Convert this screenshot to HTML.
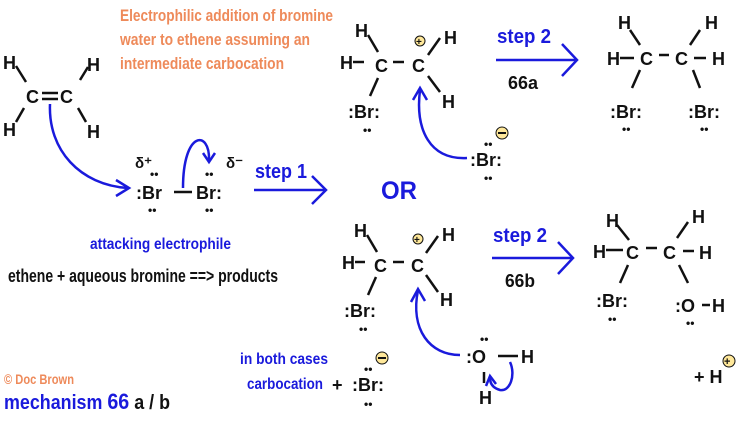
<!DOCTYPE html>
<html><head><meta charset="utf-8"><style>
body{margin:0;background:#fff}
svg text{font-family:"Liberation Sans",sans-serif;font-weight:bold}
.k{font-size:18px;fill:#111}
.b{fill:#1a1adc}
.o{fill:#ee8a5a;font-size:17px}
</style></head><body>
<svg width="748" height="421" viewBox="0 0 748 421" xmlns="http://www.w3.org/2000/svg">
<!-- title -->
<text class="o" x="120" y="21" textLength="213" lengthAdjust="spacingAndGlyphs">Electrophilic addition of bromine</text>
<text class="o" x="120" y="45" textLength="190" lengthAdjust="spacingAndGlyphs">water to ethene assuming an</text>
<text class="o" x="120" y="69" textLength="164" lengthAdjust="spacingAndGlyphs">intermediate carbocation</text>

<g class="k" stroke="#111" stroke-width="2.5">
<!-- ethene -->
<text x="3" y="69" stroke="none">H</text><text x="87" y="71" stroke="none">H</text>
<text x="26" y="103" stroke="none">C</text><text x="60" y="103" stroke="none">C</text>
<text x="3" y="136" stroke="none">H</text><text x="87" y="138" stroke="none">H</text>
<line x1="16" y1="66" x2="26" y2="82"/><line x1="80" y1="80" x2="88" y2="67"/>
<line x1="16" y1="122" x2="24" y2="108"/><line x1="78" y1="108" x2="86" y2="122"/>
<line x1="42" y1="93" x2="58" y2="93"/><line x1="42" y1="99" x2="58" y2="99"/>
<!-- Br-Br -->
<text x="135" y="168" stroke="none" font-size="15">δ⁺</text>
<text x="226" y="168" stroke="none" font-size="15">δ⁻</text>
<text x="136" y="199" stroke="none">:Br</text>
<line x1="174" y1="192" x2="192" y2="192"/>
<text x="196" y="199" stroke="none">Br:</text>
<text x="150" y="178" stroke="none" font-size="12">••</text>
<text x="205" y="178" stroke="none" font-size="12">••</text>
<text x="148" y="214" stroke="none" font-size="12">••</text>
<text x="205" y="214" stroke="none" font-size="12">••</text>

<!-- top carbocation -->
<text x="355" y="37" stroke="none">H</text>
<text x="340" y="69" stroke="none">H</text><line x1="353" y1="62" x2="364" y2="62"/>
<text x="375" y="72" stroke="none">C</text><line x1="393" y1="62" x2="404" y2="62"/>
<text x="412" y="72" stroke="none">C</text>
<text x="444" y="44" stroke="none">H</text><text x="442" y="108" stroke="none">H</text>
<line x1="368" y1="35" x2="378" y2="52"/><line x1="428" y1="55" x2="440" y2="38"/>
<line x1="428" y1="76" x2="440" y2="92"/><line x1="378" y1="78" x2="370" y2="96"/>
<text x="348" y="118" stroke="none">:Br:</text><text x="363" y="134" stroke="none" font-size="12">••</text>
<circle cx="420" cy="41" r="5" fill="#ffe89a" stroke-width="1"/><text x="416" y="45" stroke="none" font-size="10">+</text>
<text x="470" y="166" stroke="none">:Br:</text>
<text x="484" y="148" stroke="none" font-size="12">••</text><text x="484" y="182" stroke="none" font-size="12">••</text>
<circle cx="502" cy="133" r="6" fill="#ffe89a" stroke-width="1"/><line x1="498" y1="133" x2="506" y2="133" stroke-width="2"/>

<!-- top product -->
<text x="618" y="29" stroke="none">H</text><text x="705" y="29" stroke="none">H</text>
<text x="607" y="65" stroke="none">H</text><line x1="620" y1="58" x2="634" y2="58"/>
<text x="640" y="65" stroke="none">C</text><line x1="659" y1="55" x2="669" y2="55"/>
<text x="675" y="65" stroke="none">C</text><line x1="694" y1="58" x2="706" y2="58"/>
<text x="712" y="65" stroke="none">H</text>
<line x1="630" y1="30" x2="640" y2="45"/><line x1="690" y1="45" x2="700" y2="30"/>
<line x1="640" y1="70" x2="632" y2="88"/><line x1="693" y1="70" x2="700" y2="88"/>
<text x="610" y="118" stroke="none">:Br:</text><text x="622" y="133" stroke="none" font-size="12">••</text>
<text x="688" y="118" stroke="none">:Br:</text><text x="700" y="133" stroke="none" font-size="12">••</text>

<!-- bottom carbocation -->
<text x="354" y="237" stroke="none">H</text>
<text x="342" y="269" stroke="none">H</text><line x1="355" y1="262" x2="365" y2="262"/>
<text x="374" y="272" stroke="none">C</text><line x1="393" y1="262" x2="404" y2="262"/>
<text x="411" y="272" stroke="none">C</text>
<text x="442" y="241" stroke="none">H</text><text x="440" y="306" stroke="none">H</text>
<line x1="367" y1="235" x2="377" y2="252"/><line x1="426" y1="253" x2="438" y2="236"/>
<line x1="426" y1="275" x2="438" y2="292"/><line x1="376" y1="277" x2="368" y2="295"/>
<text x="344" y="317" stroke="none">:Br:</text><text x="359" y="333" stroke="none" font-size="12">••</text>
<circle cx="418" cy="239" r="5" fill="#ffe89a" stroke-width="1"/><text x="414" y="243" stroke="none" font-size="10">+</text>
<!-- water -->
<text x="466" y="363" stroke="none">:O</text><line x1="498" y1="356" x2="518" y2="356"/>
<text x="521" y="363" stroke="none">H</text>
<text x="480" y="343" stroke="none" font-size="12">••</text>
<line x1="484" y1="372" x2="484" y2="383"/><text x="479" y="404" stroke="none">H</text>
<!-- bottom product -->
<text x="606" y="227" stroke="none">H</text><text x="692" y="223" stroke="none">H</text>
<text x="593" y="258" stroke="none">H</text><line x1="606" y1="250" x2="623" y2="250"/>
<text x="626" y="259" stroke="none">C</text><line x1="646" y1="248" x2="657" y2="248"/>
<text x="663" y="259" stroke="none">C</text><line x1="683" y1="251" x2="694" y2="251"/>
<text x="699" y="259" stroke="none">H</text>
<line x1="617" y1="225" x2="629" y2="240"/><line x1="677" y1="238" x2="688" y2="222"/>
<line x1="628" y1="265" x2="620" y2="283"/><line x1="679" y1="265" x2="688" y2="283"/>
<text x="596" y="307" stroke="none">:Br:</text><text x="608" y="323" stroke="none" font-size="12">••</text>
<text x="675" y="312" stroke="none">:O</text><line x1="702" y1="305" x2="710" y2="305"/>
<text x="712" y="312" stroke="none">H</text><text x="686" y="327" stroke="none" font-size="12">••</text>
<text x="694" y="383" stroke="none">+ H</text>
<circle cx="729" cy="361" r="6" fill="#ffe89a" stroke-width="1"/><text x="724" y="365" stroke="none" font-size="11">+</text>
<!-- bottom left Br- -->
<text x="332" y="391" stroke="none">+</text>
<text x="352" y="391" stroke="none">:Br:</text>
<text x="364" y="373" stroke="none" font-size="12">••</text><text x="364" y="408" stroke="none" font-size="12">••</text>
<circle cx="382" cy="358" r="6" fill="#ffe89a" stroke-width="1"/><line x1="378" y1="358" x2="386" y2="358" stroke-width="2"/>
</g>

<text class="k" x="8" y="282" font-size="16" textLength="270" lengthAdjust="spacingAndGlyphs">ethene + aqueous bromine ==&gt; products</text>
<text class="b" x="90" y="249" font-size="16" textLength="141" lengthAdjust="spacingAndGlyphs">attacking electrophile</text>
<text class="b" x="255" y="178" font-size="20" textLength="52" lengthAdjust="spacingAndGlyphs">step 1</text>
<text class="b" x="381" y="199" font-size="25" textLength="36" lengthAdjust="spacingAndGlyphs">OR</text>
<text class="b" x="497" y="43" font-size="20" textLength="54" lengthAdjust="spacingAndGlyphs">step 2</text>
<text class="k" x="508" y="89" font-size="17" textLength="30" lengthAdjust="spacingAndGlyphs">66a</text>
<text class="b" x="493" y="242" font-size="20" textLength="54" lengthAdjust="spacingAndGlyphs">step 2</text>
<text class="k" x="505" y="287" font-size="17" textLength="30" lengthAdjust="spacingAndGlyphs">66b</text>
<text class="b" x="240" y="364" font-size="16" textLength="88" lengthAdjust="spacingAndGlyphs">in both cases</text>
<text class="b" x="247" y="389" font-size="16" textLength="76" lengthAdjust="spacingAndGlyphs">carbocation</text>
<text x="4" y="384" fill="#ee8a5a" font-size="14" textLength="70" lengthAdjust="spacingAndGlyphs">© Doc Brown</text>
<text x="4" y="409" fill="#1a1adc" font-size="20" textLength="166" lengthAdjust="spacingAndGlyphs">mechanism <tspan font-size="22">66</tspan><tspan fill="#111"> a / b</tspan></text>

<g fill="none" stroke="#1a1adc" stroke-width="2.5">
<path d="M50,104 C48,150 80,185 128,188"/><path d="M116,180 L129,188 L116,196"/>
<path d="M183,188 C183,130 210,130 209,160"/><path d="M203,153 L209,162 L215,153"/>
<path d="M254,190 L325,190"/><path d="M312,176 L326,190 L312,204"/>
<path d="M496,60 L576,60"/><path d="M562,44 L577,60 L562,76"/>
<path d="M492,258 L572,258"/><path d="M558,242 L573,258 L558,274"/>
<path d="M467,158 C430,160 415,130 420,90"/><path d="M413,100 L420,88 L427,100"/>
<path d="M460,355 C430,355 410,330 418,290"/><path d="M411,302 L418,289 L425,301"/>
<path d="M510,362 C516,375 510,392 500,390 C493,388 490,384 490,378"/><path d="M486,386 L490,376 L496,384"/>
</g>
</svg>
</body></html>
